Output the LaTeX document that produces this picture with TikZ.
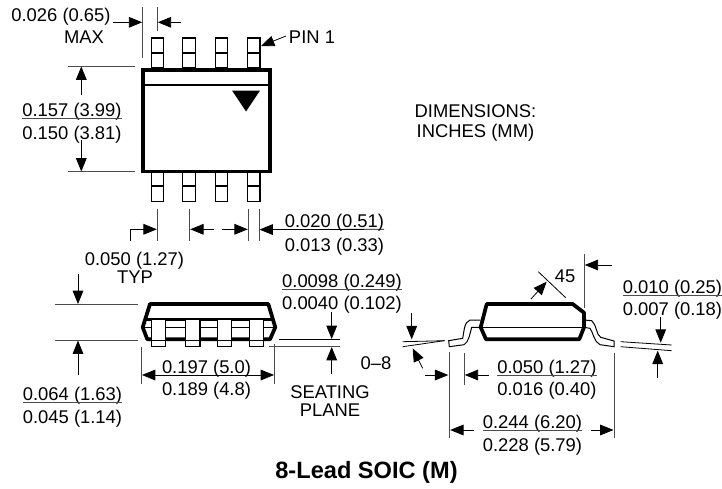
\documentclass[tikz,border=0pt]{standalone}
\usepackage{fontspec}
\setmainfont{Liberation Sans}
\usetikzlibrary{arrows.meta}
\begin{document}
\begin{tikzpicture}[x=.75pt,y=-.75pt,inner sep=0pt,outer sep=0pt,line width=.6pt,>={Triangle[length=10pt,width=8pt]},
dimtext/.style={font=\fontsize{13.8}{16}\selectfont,text height=10pt,text depth=1.4pt},
dimline/.style={black!70,line width=.6pt},
pkgline/.style={line width=2.8pt,line join=miter},
pintab/.style={draw,fill=white,line width=.8pt}]

\useasboundingbox (0,0) rectangle (722,489);

\draw (61,16) node[dimtext] (tLeadMax) {0.026 (0.65)};
\draw (84,38) node[dimtext] (tMax) {MAX};
\draw (312,38) node[dimtext] (tPin) {PIN 1};
\draw (72,110.4) node[dimtext] (tWidthHi) {0.157 (3.99)};
\draw (72,134) node[dimtext] (tWidthLo) {0.150 (3.81)};
\draw (475.5,112) node[dimtext] (tDim) {DIMENSIONS:};
\draw (475.5,132) node[dimtext] (tUnit) {INCHES (MM)};
\draw (334.5,221.7) node[dimtext] (tLeadHi) {0.020 (0.51)};
\draw (334.5,246) node[dimtext] (tLeadLo) {0.013 (0.33)};
\draw (134.5,260) node[dimtext] (tPitch) {0.050 (1.27)};
\draw (135,277.5) node[dimtext] (tTyp) {TYP};
\draw (342,281.5) node[dimtext] (tStandHi) {0.0098 (0.249)};
\draw (342,303.5) node[dimtext] (tStandLo) {0.0040 (0.102)};
\draw (206.5,368) node[dimtext] (tLenHi) {0.197 (5.0)};
\draw (206.5,390) node[dimtext] (tLenLo) {0.189 (4.8)};
\draw (330,393) node[dimtext] (tSeat) {SEATING};
\draw (330,411) node[dimtext] (tPlane) {PLANE};
\draw (376,364) node[dimtext] (tAngle) {0--8};
\draw (72.5,394.7) node[dimtext] (tHeightHi) {0.064 (1.63)};
\draw (72.5,418) node[dimtext] (tHeightLo) {0.045 (1.14)};
\draw (565,277) node[dimtext] (tChamfer) {45};
\draw (672.5,287.7) node[dimtext] (tThickHi) {0.010 (0.25)};
\draw (672.5,310) node[dimtext] (tThickLo) {0.007 (0.18)};
\draw (547,367.7) node[dimtext] (tFootHi) {0.050 (1.27)};
\draw (547,390) node[dimtext] (tFootLo) {0.016 (0.40)};
\draw (532.5,422.4) node[dimtext] (tSpanHi) {0.244 (6.20)};
\draw (532.5,446) node[dimtext] (tSpanLo) {0.228 (5.79)};
\draw (366.5,472) node[font=\fontsize{17.7}{20}\selectfont\bfseries] (tTitle) {8-Lead SOIC (M)};

\draw[dimline] (tWidthHi.south west) -- (tWidthHi.south east);
\draw[dimline] (tStandHi.south west) -- (tStandHi.south east);
\draw[dimline] (tHeightHi.south west) -- (tHeightHi.south east);
\draw[dimline] (tThickHi.south west) -- (tThickHi.south east);
\draw[dimline] (tFootHi.south west) -- (tFootHi.south east);
\draw[dimline] (tSpanHi.south west) -- (tSpanHi.south east);

\draw[pintab] (151.3,38) rectangle (163.7,68) (151.3,53) -- (163.7,53);
\draw[pintab] (182.7,38) rectangle (195.3,68) (182.7,53) -- (195.3,53);
\draw[pintab] (215.3,38) rectangle (227.7,68) (215.3,53) -- (227.7,53);
\draw[pintab] (247.3,38) rectangle (260,68) (247.3,53) -- (260,53);
\draw[pintab] (151.3,172) rectangle (163.7,201.7) (151.3,186) -- (163.7,186);
\draw[pintab] (182.7,172) rectangle (195.3,201.7) (182.7,186) -- (195.3,186);
\draw[pintab] (215.3,172) rectangle (227.7,201.7) (215.3,186) -- (227.7,186);
\draw[pintab] (247.3,172) rectangle (260,201.7) (247.3,186) -- (260,186);
\draw[pkgline,fill=white] (142.7,69.7) rectangle (269.7,171.5);
\draw[line width=.9pt] (143,85) -- (270,85);
\fill (232,90.5) -- (260,90.5) -- (246,111.5) -- cycle;

\draw[dimline] (142.7,7) -- (142.7,58);
\draw[dimline] (157.3,7) -- (157.3,31);
\draw[->] (112.7,22.3) -- (142.2,22.3);
\draw[->] (180.7,22.3) -- (157.8,22.3);
\draw[->] (286,36) -- (261,46);
\draw[dimline] (68,66.3) -- (135,66.3);
\draw[dimline] (68,171.7) -- (135,171.7);
\draw[->] (81.3,95) -- (81.3,66.5);
\draw[->] (81.3,140) -- (81.3,171.5);

\draw[dimline] (157.3,208.7) -- (157.3,240.7);
\draw[dimline] (189.7,208.7) -- (189.7,240.7);
\draw[dimline] (248.3,208.7) -- (248.3,240.7);
\draw[dimline] (259,208.7) -- (259,240.7);
\draw[->] (130.7,241) |- (156.8,229.3);
\draw[->] (214,229.3) -- (190.2,229.3);
\draw[->] (222,229.3) -- (247.8,229.3);
\draw[->] (tLeadHi.south east) -- (259.5,229.6);

\draw[pkgline,line join=round] (150,304) -- (268.3,304) -- (275.3,327.3) -- (270,339.3) -- (147.3,339.3) -- (142.7,327.3) -- cycle;
\draw[line width=1.8pt] (146,319.3) -- (272,319.3);
\draw[line width=1pt] (143,327.3) -- (275,327.3);
\draw[pintab] (151.7,319) rectangle (165.7,346.7) (151.7,340.5) -- (165.7,340.5);
\draw[pintab] (185.3,319) rectangle (200,346.7) (185.3,340.5) -- (200,340.5);
\draw[pintab] (217.7,319) rectangle (231.7,346.7) (217.7,340.5) -- (231.7,340.5);
\draw[pintab] (249.3,319) rectangle (263.3,346.7) (249.3,340.5) -- (263.3,340.5);

\draw[dimline] (55,304.3) -- (138,304.3);
\draw[dimline] (55,340.3) -- (138,340.3);
\draw[->] (78,274) -- (78,304);
\draw[->] (78,375) -- (78,340.6);
\draw[dimline] (141.7,347.3) -- (141.7,384);
\draw[dimline] (274.3,344) -- (274.3,384);
\draw[<->] (142,375) -- (274,375);
\draw (279,339.3) -- (340,339.3);
\draw[dimline] (269,346.7) -- (340,346.7);
\draw[->] (331.7,311.7) -- (331.7,339);
\draw[->] (331.7,374) -- (331.7,347);

\draw[line width=.75pt,fill=white] (480.7,320) -- (470,320) .. controls (464,322) and (464,332) .. (462.7,338.3) -- (448.7,340.7) -- (449.3,346.7) -- (464,344.7) .. controls (469,342) and (470,333) .. (471.7,327.3) -- (480.7,327.3);
\draw[line width=.75pt,fill=white] (584,320) -- (591.7,320.7) .. controls (597,325) and (596,335) .. (600.7,337.3) -- (614,341) -- (614,346.7) -- (600,344.7) .. controls (594,342) and (593,332) .. (590,328.3) -- (584,327.3);
\draw[pkgline,fill=white,line join=round] (486.7,304) -- (572.7,304) -- (584,312.7) -- (584,327.3) -- (579.3,339.3) -- (486,339.3) -- (480.7,327.3) -- cycle;
\draw[line width=1pt] (481,327.3) -- (584,327.3);

\draw (538.3,271.7) -- (565.7,297.7);
\draw[->] (531,299) -- (546.7,281.7);
\draw[dimline] (584.3,254) -- (584.3,308);
\draw[->] (612.3,265) -- (584.8,265);
\draw[->] (660.7,317) -- (660.7,342.7);
\draw[->] (657.7,378) -- (657.7,350.7);
\draw (620.7,341.7) -- (671.7,345);
\draw (620.7,346.7) -- (671.7,350.7);
\draw (402.7,341.7) -- (445,340.7);
\draw (402.7,346.7) -- (444.3,340.7);
\draw[->] (411.7,313.3) -- (411.7,339.3);
\draw[->] (422.7,368.3) -- (412.7,348.3);
\draw[->] (425,375) -- (448.3,375);
\draw[dimline] (449.7,351.7) -- (449.7,438.3);
\draw[dimline] (464.3,352.7) -- (464.3,385);
\draw[dimline] (614,352.7) -- (614,438.3);
\draw[->] (489.3,375) -- (464.8,375);
\draw[->] (474,430) -- (450.2,430);
\draw[->] (590.7,430) -- (613.5,430);
\end{tikzpicture}
\end{document}
